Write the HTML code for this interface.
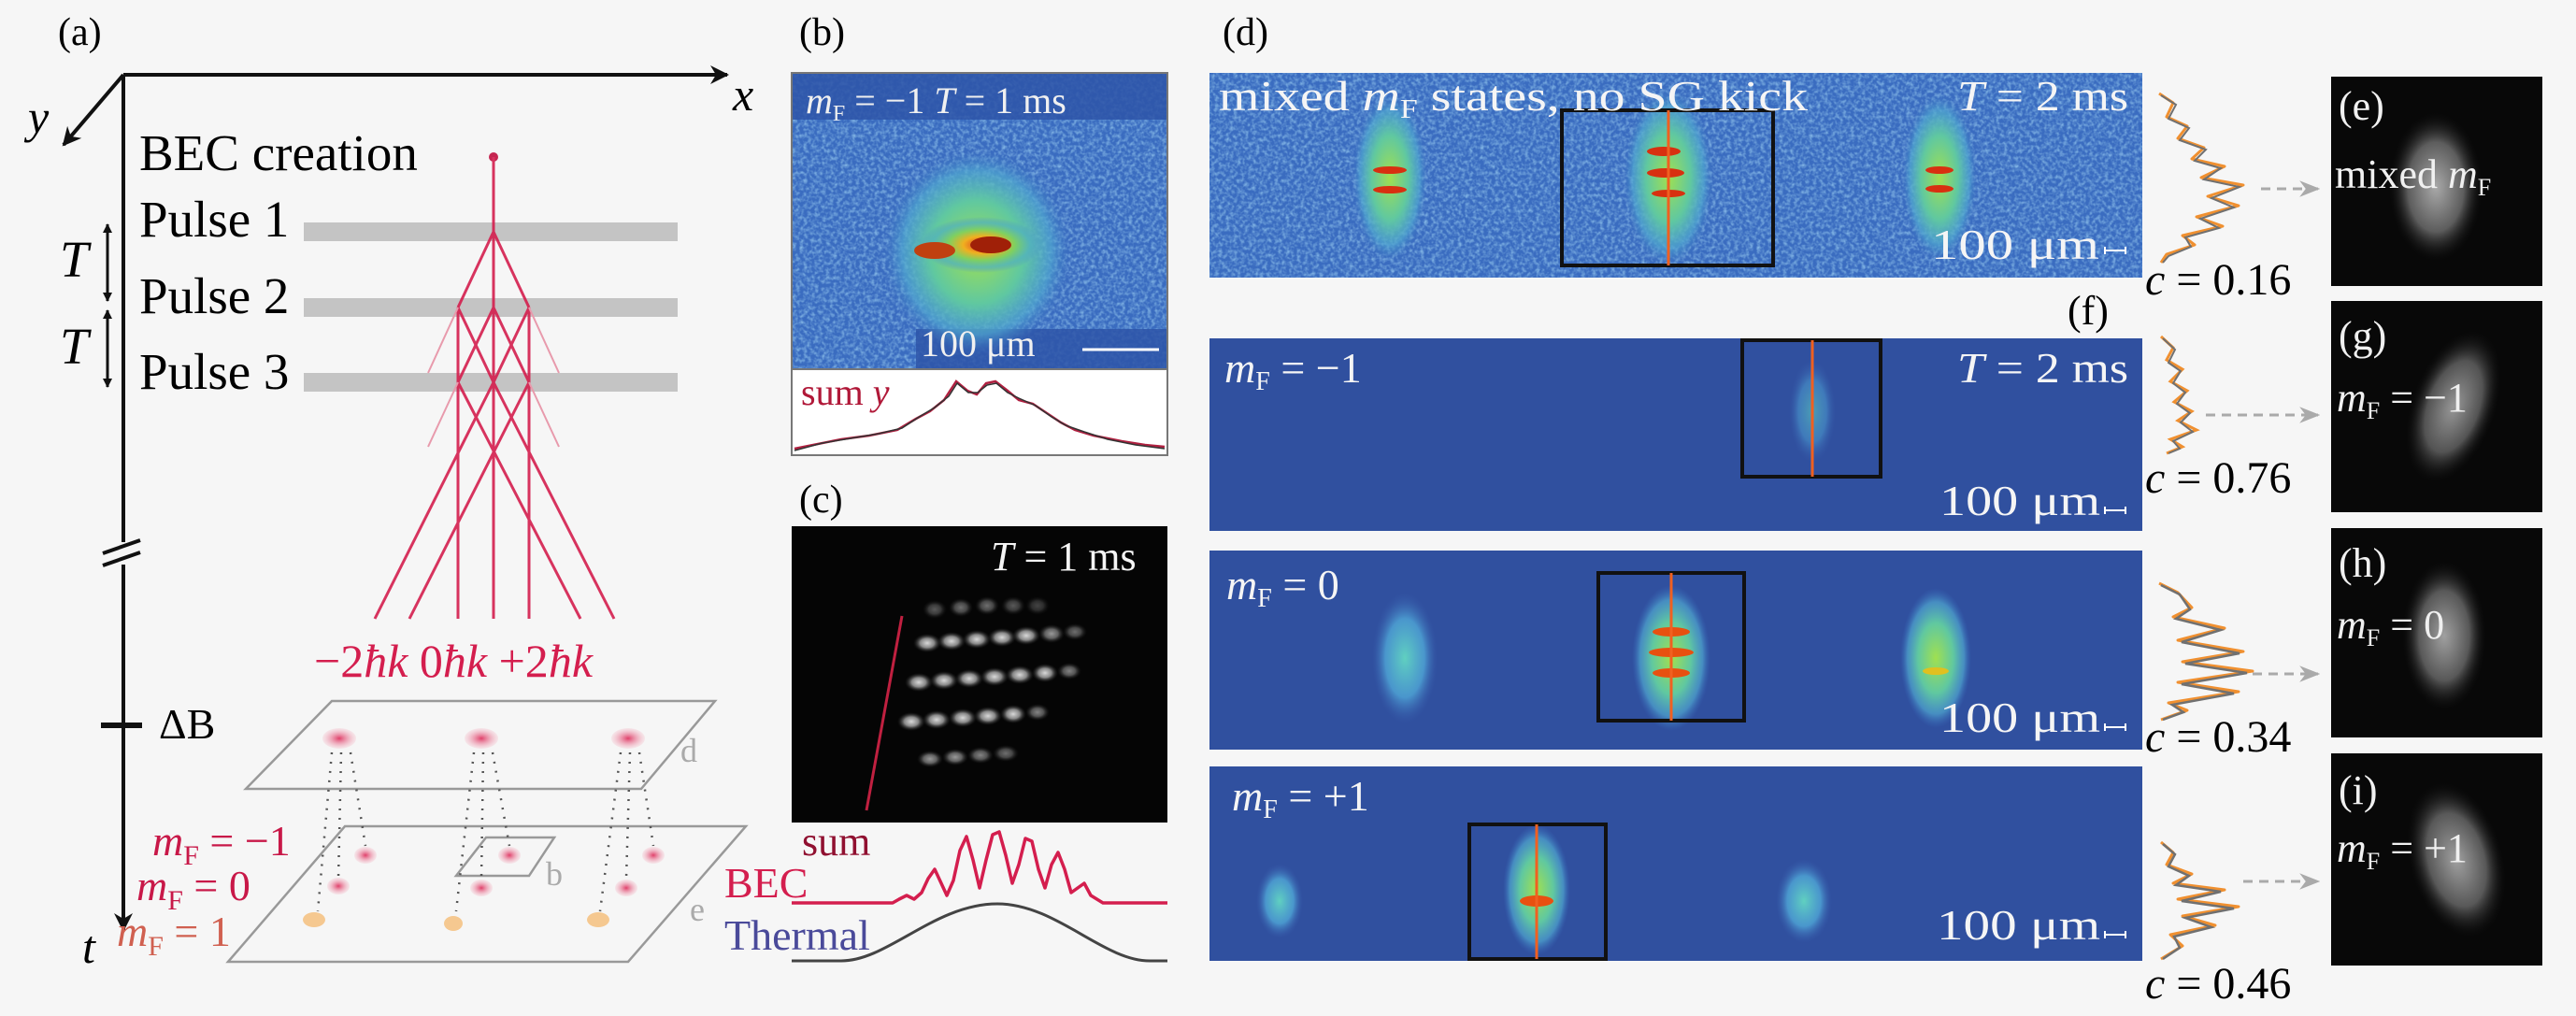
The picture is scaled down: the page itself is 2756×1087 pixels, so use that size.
<!DOCTYPE html>
<html><head><meta charset="utf-8"><style>
html,body{margin:0;padding:0;background:#f6f6f6;}
svg{display:block;font-family:"Liberation Serif","DejaVu Serif",serif;}
svg text{font-family:"Liberation Serif","DejaVu Serif",serif;}
</style></head><body>
<svg width="2756" height="1087" viewBox="0 0 2756 1087" xmlns="http://www.w3.org/2000/svg" font-family="Liberation Serif, DejaVu Serif, serif">
<defs>
<radialGradient id="blobHot" cx="50%" cy="50%" r="50%">
<stop offset="0" stop-color="#e03020"/><stop offset="0.3" stop-color="#f0b020"/><stop offset="0.55" stop-color="#7fd060"/><stop offset="0.8" stop-color="#50b0c0" stop-opacity="0.7"/><stop offset="1" stop-color="#4a90d0" stop-opacity="0"/>
</radialGradient>
<radialGradient id="blobGreen" cx="50%" cy="50%" r="50%">
<stop offset="0" stop-color="#a0e050"/><stop offset="0.5" stop-color="#60c8a0"/><stop offset="0.8" stop-color="#50a8d0" stop-opacity="0.7"/><stop offset="1" stop-color="#3a70c0" stop-opacity="0"/>
</radialGradient>
<radialGradient id="blobCyan" cx="50%" cy="50%" r="50%">
<stop offset="0" stop-color="#60d0c0"/><stop offset="0.6" stop-color="#50a8d8" stop-opacity="0.8"/><stop offset="1" stop-color="#3a5fb0" stop-opacity="0"/>
</radialGradient>
<radialGradient id="gray" cx="50%" cy="50%" r="50%">
<stop offset="0" stop-color="#bbb"/><stop offset="0.6" stop-color="#666"/><stop offset="1" stop-color="#111" stop-opacity="0"/>
</radialGradient>
<radialGradient id="spot" cx="50%" cy="50%" r="50%">
<stop offset="0" stop-color="#d8d8d8"/><stop offset="0.5" stop-color="#888"/><stop offset="1" stop-color="#222" stop-opacity="0"/>
</radialGradient>
<radialGradient id="pink" cx="50%" cy="50%" r="50%">
<stop offset="0" stop-color="#e0406a"/><stop offset="1" stop-color="#f4c0cc" stop-opacity="0.3"/>
</radialGradient>
<filter id="noise" x="0" y="0" width="100%" height="100%">
<feTurbulence type="fractalNoise" baseFrequency="0.25" numOctaves="2" seed="3"/>
<feColorMatrix type="matrix" values="0 0 0 0 0.35  0 0 0 0 0.65  0 0 0 0 0.9  0 0 0 1.4 -0.55"/>
<feComposite in2="SourceGraphic" operator="in"/>
</filter>
<marker id="ahb" viewBox="0 0 10 10" markerWidth="26" markerHeight="20" refX="9" refY="5" orient="auto" markerUnits="userSpaceOnUse"><path d="M0,0 L10,5 L0,10 L3,5 z" fill="#111"/></marker>
<marker id="ahs" viewBox="0 0 10 10" markerWidth="10" markerHeight="10" refX="9" refY="5" orient="auto-start-reverse" markerUnits="userSpaceOnUse"><path d="M0,0 L10,5 L0,10 z" fill="#111"/></marker>
<marker id="ahg" viewBox="0 0 10 10" markerWidth="22" markerHeight="22" refX="9" refY="5" orient="auto" markerUnits="userSpaceOnUse"><path d="M0,1 L10,5 L0,9 L3,5 z" fill="#aaa"/></marker>
</defs>

<text x="62" y="48" font-size="42">(a)</text>
<line x1="132" y1="80" x2="778" y2="80" stroke="#111" stroke-width="4" marker-end="url(#ahb)"/>
<text x="784" y="118" font-size="50" font-style="italic">x</text>
<line x1="132" y1="80" x2="68" y2="155" stroke="#111" stroke-width="4" marker-end="url(#ahb)"/>
<text x="30" y="142" font-size="50" font-style="italic">y</text>
<line x1="132" y1="80" x2="132" y2="995" stroke="#111" stroke-width="4" marker-end="url(#ahb)"/>
<text x="88" y="1030" font-size="50" font-style="italic">t</text>
<rect x="118" y="580" width="30" height="24" fill="#f6f6f6"/>
<line x1="110" y1="592" x2="150" y2="578" stroke="#111" stroke-width="4"/>
<line x1="110" y1="605" x2="150" y2="591" stroke="#111" stroke-width="4"/>
<line x1="108" y1="776" x2="152" y2="776" stroke="#111" stroke-width="6"/>
<text x="170" y="790" font-size="46">ΔB</text>

<text x="149" y="182" font-size="55">BEC creation</text>
<text x="149" y="253" font-size="55">Pulse 1</text>
<text x="149" y="335" font-size="55">Pulse 2</text>
<text x="149" y="416" font-size="55">Pulse 3</text>
<rect x="325" y="238" width="400" height="20" fill="#c4c4c4"/>
<rect x="325" y="319" width="400" height="20" fill="#c4c4c4"/>
<rect x="325" y="399" width="400" height="20" fill="#c4c4c4"/>
<line x1="115" y1="240" x2="115" y2="322" stroke="#111" stroke-width="3" marker-start="url(#ahs)" marker-end="url(#ahs)"/>
<line x1="115" y1="332" x2="115" y2="414" stroke="#111" stroke-width="3" marker-start="url(#ahs)" marker-end="url(#ahs)"/>
<text x="64" y="296" font-size="55" font-style="italic">T</text>
<text x="64" y="389" font-size="55" font-style="italic">T</text>

<g stroke="#d41e4e" stroke-width="3" fill="none" opacity="0.9">
<circle cx="528" cy="168" r="5" fill="#c01040" stroke="none"/>
<line x1="528" y1="168" x2="528" y2="662"/>
<line x1="528" y1="248" x2="490" y2="329"/>
<line x1="528" y1="248" x2="566" y2="329"/>
<line x1="490" y1="329" x2="490" y2="662"/>
<line x1="566" y1="329" x2="566" y2="662"/>
<line x1="490" y1="329" x2="528" y2="409"/>
<line x1="566" y1="329" x2="528" y2="409"/>
<line x1="528" y1="329" x2="490" y2="409"/>
<line x1="528" y1="329" x2="566" y2="409"/>
<line x1="528" y1="409" x2="401" y2="662"/>
<line x1="528" y1="409" x2="657" y2="662"/>
<line x1="566" y1="409" x2="438" y2="662"/>
<line x1="490" y1="409" x2="621" y2="662"/>
</g>
<g stroke="#e89aac" stroke-width="2" fill="none">
<line x1="490" y1="329" x2="458" y2="399"/>
<line x1="566" y1="329" x2="598" y2="399"/>
<line x1="490" y1="409" x2="458" y2="478"/>
<line x1="566" y1="409" x2="598" y2="478"/>
</g>
<text x="336" y="724" font-size="50" fill="#d41e4e">−2<tspan font-style="italic">ħk</tspan> 0<tspan font-style="italic">ħk</tspan> +2<tspan font-style="italic">ħk</tspan></text>

<polygon points="263,844 355,750 765,750 686,844" fill="none" stroke="#999" stroke-width="2.5"/>
<polygon points="244,1029 369,884 798,884 672,1029" fill="none" stroke="#999" stroke-width="2.5"/>
<polygon points="488,937 520,896 593,896 566,937" fill="none" stroke="#999" stroke-width="2.5"/>
<text x="728" y="815" font-size="36" fill="#aaa">d</text>
<text x="738" y="985" font-size="36" fill="#aaa">e</text>
<text x="584" y="947" font-size="36" fill="#aaa">b</text>
<g fill="url(#pink)">
<ellipse cx="363" cy="790" rx="18" ry="11"/><ellipse cx="515" cy="790" rx="18" ry="11"/><ellipse cx="672" cy="790" rx="18" ry="11"/>
<ellipse cx="391" cy="915" rx="12" ry="9"/><ellipse cx="545" cy="915" rx="12" ry="9"/><ellipse cx="699" cy="915" rx="12" ry="9"/>
<ellipse cx="362" cy="948" rx="12" ry="9"/><ellipse cx="515" cy="950" rx="12" ry="9"/><ellipse cx="670" cy="950" rx="12" ry="9"/>
</g>
<g fill="#f5c890"><ellipse cx="336" cy="984" rx="12" ry="8"/><ellipse cx="485" cy="988" rx="10" ry="8"/><ellipse cx="640" cy="984" rx="12" ry="8"/></g>
<g stroke="#555" stroke-width="2.5" stroke-dasharray="2,8">
<line x1="355" y1="805" x2="340" y2="975"/><line x1="365" y1="805" x2="362" y2="940"/><line x1="375" y1="805" x2="391" y2="905"/>
<line x1="507" y1="805" x2="488" y2="975"/><line x1="517" y1="805" x2="515" y2="940"/><line x1="527" y1="805" x2="545" y2="905"/>
<line x1="664" y1="805" x2="642" y2="975"/><line x1="674" y1="805" x2="670" y2="940"/><line x1="684" y1="805" x2="699" y2="905"/>
</g>
<text x="163" y="915" font-size="46" fill="#c81848"><tspan font-style="italic">m</tspan><tspan font-size="30" dy="10">F</tspan><tspan dy="-10"> = −1</tspan></text>
<text x="146" y="963" font-size="46" fill="#c81848"><tspan font-style="italic">m</tspan><tspan font-size="30" dy="10">F</tspan><tspan dy="-10"> = 0</tspan></text>
<text x="125" y="1012" font-size="46" fill="#d06050"><tspan font-style="italic">m</tspan><tspan font-size="30" dy="10">F</tspan><tspan dy="-10"> = 1</tspan></text>

<text x="855" y="48" font-size="42">(b)</text>
<rect x="847" y="78" width="402" height="317" fill="#3a6cc0"/>
<rect x="847" y="78" width="402" height="317" fill="#7ab8e8" filter="url(#noise)"/>
<rect x="847" y="78" width="402" height="50" fill="#2e55a8" opacity="0.85"/>
<rect x="980" y="352" width="269" height="43" fill="#2e55a8" opacity="0.85"/>
<ellipse cx="1045" cy="270" rx="100" ry="110" fill="url(#blobGreen)"/>
<ellipse cx="1050" cy="262" rx="65" ry="30" fill="url(#blobHot)"/>
<ellipse cx="1000" cy="268" rx="22" ry="9" fill="#c04010"/>
<ellipse cx="1060" cy="262" rx="22" ry="9" fill="#a02008"/>
<text x="862" y="121" font-size="40" fill="#f0f0f0"><tspan font-style="italic">m</tspan><tspan font-size="24" dy="8">F</tspan><tspan dy="-8"> = −1 </tspan><tspan font-style="italic">T</tspan> = 1 ms</text>
<text x="985" y="381" font-size="40" fill="#f0f0f0">100 μm</text>
<line x1="1158" y1="374" x2="1240" y2="374" stroke="#fff" stroke-width="3"/>
<rect x="847" y="395" width="402" height="92" fill="#fff" stroke="#777" stroke-width="2"/>
<rect x="847" y="78" width="402" height="409" fill="none" stroke="#777" stroke-width="2"/>
<text x="857" y="433" font-size="40" fill="#b01838">sum <tspan font-style="italic">y</tspan></text>
<polyline fill="none" stroke="#b02040" stroke-width="2.5" points="850,480 870,476 900,470 930,466 960,460 980,448 995,440 1010,428 1023,408 1035,418 1045,422 1055,410 1065,408 1078,418 1090,428 1105,432 1120,442 1135,452 1150,460 1170,466 1200,472 1225,476 1246,478"/>
<polyline fill="none" stroke="#333" stroke-width="1.5" points="850,482 880,474 910,469 940,464 965,458 985,445 1000,436 1015,424 1024,410 1036,420 1046,420 1056,412 1066,410 1078,420 1090,426 1108,434 1125,446 1140,455 1160,462 1185,470 1215,476 1246,480"/>

<text x="855" y="548" font-size="42">(c)</text>
<rect x="847" y="563" width="402" height="317" fill="#050505"/>
<text x="1060" y="610" font-size="44" fill="#f5f5f5"><tspan font-style="italic">T</tspan> = 1 ms</text>
<g fill="url(#spot)">
<ellipse cx="1000" cy="652" rx="13" ry="10" opacity="0.4"/><ellipse cx="1028" cy="650" rx="13" ry="10" opacity="0.5"/><ellipse cx="1056" cy="648" rx="13" ry="10" opacity="0.5"/><ellipse cx="1084" cy="648" rx="13" ry="10" opacity="0.4"/><ellipse cx="1110" cy="648" rx="13" ry="10" opacity="0.3"/>
<ellipse cx="992" cy="688" rx="15" ry="10"/><ellipse cx="1018" cy="686" rx="15" ry="10"/><ellipse cx="1045" cy="684" rx="15" ry="10"/><ellipse cx="1072" cy="682" rx="15" ry="10"/><ellipse cx="1098" cy="680" rx="15" ry="10"/><ellipse cx="1125" cy="678" rx="14" ry="10" opacity="0.7"/><ellipse cx="1150" cy="676" rx="13" ry="9" opacity="0.5"/>
<ellipse cx="983" cy="730" rx="15" ry="10"/><ellipse cx="1010" cy="728" rx="15" ry="10"/><ellipse cx="1037" cy="726" rx="15" ry="10"/><ellipse cx="1064" cy="724" rx="15" ry="10"/><ellipse cx="1091" cy="722" rx="15" ry="10"/><ellipse cx="1118" cy="720" rx="14" ry="10"/><ellipse cx="1144" cy="718" rx="13" ry="9" opacity="0.6"/>
<ellipse cx="975" cy="772" rx="15" ry="10"/><ellipse cx="1002" cy="770" rx="15" ry="10"/><ellipse cx="1030" cy="768" rx="15" ry="10"/><ellipse cx="1057" cy="766" rx="15" ry="10"/><ellipse cx="1084" cy="764" rx="14" ry="10"/><ellipse cx="1110" cy="762" rx="13" ry="9" opacity="0.6"/>
<ellipse cx="995" cy="812" rx="14" ry="9" opacity="0.7"/><ellipse cx="1022" cy="810" rx="14" ry="9" opacity="0.7"/><ellipse cx="1049" cy="808" rx="14" ry="9" opacity="0.6"/><ellipse cx="1076" cy="806" rx="14" ry="9" opacity="0.5"/>
</g>
<line x1="965" y1="659" x2="927" y2="867" stroke="#c02040" stroke-width="3"/>
<text x="858" y="915" font-size="44" fill="#901030">sum</text>
<text x="775" y="960" font-size="46" fill="#d41e4e">BEC</text>
<text x="775" y="1016" font-size="46" fill="#4a4a9a">Thermal</text>
<polyline fill="none" stroke="#d41e4e" stroke-width="3.5" stroke-linejoin="round" points="847,966 955,966 962,962 970,958 978,962 986,955 993,940 1000,930 1007,945 1013,958 1020,942 1027,910 1034,895 1041,920 1048,950 1055,920 1062,893 1069,890 1076,915 1083,945 1090,925 1097,897 1104,900 1111,930 1118,950 1125,925 1132,912 1139,930 1146,955 1153,950 1160,945 1167,958 1180,966 1249,966"/>
<path d="M847,1028 L900,1028 C950,1028 1000,967 1067,967 C1130,967 1180,1028 1230,1028 L1249,1028" fill="none" stroke="#444" stroke-width="3"/>

<text x="1308" y="48" font-size="42">(d)</text>
<rect x="1294" y="78" width="998" height="219" fill="#3a6cc0"/>
<rect x="1294" y="78" width="998" height="219" fill="#7ab8e8" filter="url(#noise)"/>
<ellipse cx="1487" cy="190" rx="40" ry="90" fill="url(#blobGreen)"/>
<ellipse cx="1785" cy="190" rx="48" ry="95" fill="url(#blobGreen)"/>
<ellipse cx="2075" cy="190" rx="40" ry="90" fill="url(#blobGreen)"/>
<g fill="#d83010"><ellipse cx="1487" cy="182" rx="18" ry="4"/><ellipse cx="1487" cy="203" rx="18" ry="4"/>
<ellipse cx="1780" cy="162" rx="18" ry="5"/><ellipse cx="1782" cy="185" rx="20" ry="5"/><ellipse cx="1785" cy="207" rx="18" ry="4"/>
<ellipse cx="2075" cy="182" rx="15" ry="4"/><ellipse cx="2075" cy="202" rx="15" ry="4"/></g>
<rect x="1671" y="118" width="226" height="166" fill="none" stroke="#111" stroke-width="4"/>
<line x1="1785" y1="118" x2="1785" y2="284" stroke="#f06020" stroke-width="3"/>
<text x="1304" y="118" font-size="46" fill="#f5f5f5" textLength="630" lengthAdjust="spacingAndGlyphs">mixed <tspan font-style="italic">m</tspan><tspan font-size="28" dy="8">F</tspan><tspan dy="-8"> states, no SG kick</tspan></text>
<text x="2094" y="118" font-size="46" fill="#f5f5f5" textLength="183" lengthAdjust="spacingAndGlyphs"><tspan font-style="italic">T</tspan> = 2 ms</text>
<text x="2066" y="277" font-size="46" fill="#f5f5f5" textLength="180" lengthAdjust="spacingAndGlyphs">100 μm</text>
<path d="M2252,272 v-8 M2252,268 h22 M2274,272 v-8" stroke="#fff" stroke-width="2" fill="none"/>

<polyline fill="none" stroke="#f09030" stroke-width="3" stroke-linejoin="round" points="2310,100 2325,110 2318,125 2340,135 2330,148 2358,158 2345,170 2380,178 2355,190 2400,198 2362,210 2395,220 2350,232 2378,242 2335,252 2348,262 2318,272 2312,281"/>
<polyline fill="none" stroke="#707070" stroke-width="2" points="2312,102 2328,112 2320,127 2342,137 2332,150 2360,160 2348,172 2376,180 2358,192 2396,200 2366,212 2390,222 2354,234 2374,244 2338,254 2344,264 2320,274 2314,281"/>
<line x1="2419" y1="202" x2="2480" y2="202" stroke="#aaa" stroke-width="3" stroke-dasharray="10,7" marker-end="url(#ahg)"/>
<text x="2295" y="315" font-size="48"><tspan font-style="italic">c</tspan> = 0.16</text>

<rect x="2494" y="82" width="226" height="224" fill="#080808"/>
<ellipse cx="2606" cy="200" rx="50" ry="80" fill="url(#gray)" opacity="0.9"/>
<text x="2502" y="128" font-size="44" fill="#f0f0f0">(e)</text>
<text x="2498" y="201" font-size="44" fill="#f0f0f0">mixed <tspan font-style="italic">m</tspan><tspan font-size="26" dy="8">F</tspan></text>

<text x="2212" y="347" font-size="44">(f)</text>
<rect x="1294" y="362" width="998" height="206" fill="#30509f"/>
<ellipse cx="1939" cy="440" rx="25" ry="55" fill="url(#blobCyan)" opacity="0.6"/>
<rect x="1864" y="364" width="148" height="146" fill="none" stroke="#111" stroke-width="4"/>
<line x1="1939" y1="364" x2="1939" y2="510" stroke="#f06020" stroke-width="3"/>
<text x="1310" y="409" font-size="46" fill="#f5f5f5"><tspan font-style="italic">m</tspan><tspan font-size="28" dy="8">F</tspan><tspan dy="-8"> = −1</tspan></text>
<text x="2094" y="409" font-size="46" fill="#f5f5f5" textLength="183" lengthAdjust="spacingAndGlyphs"><tspan font-style="italic">T</tspan> = 2 ms</text>
<text x="2075" y="551" font-size="46" fill="#f5f5f5" textLength="172" lengthAdjust="spacingAndGlyphs">100 μm</text>
<path d="M2252,550 v-8 M2252,546 h22 M2274,550 v-8" stroke="#fff" stroke-width="2" fill="none"/>
<polyline fill="none" stroke="#f09030" stroke-width="3" points="2312,360 2325,372 2318,385 2335,395 2322,408 2340,418 2326,430 2345,440 2330,450 2350,460 2322,470 2335,478 2318,485"/>
<polyline fill="none" stroke="#707070" stroke-width="2" points="2314,362 2327,374 2320,388 2333,397 2325,410 2338,420 2329,432 2343,442 2333,452 2346,462 2325,472 2332,480 2320,485"/>
<line x1="2360" y1="444" x2="2480" y2="444" stroke="#aaa" stroke-width="3" stroke-dasharray="10,7" marker-end="url(#ahg)"/>
<text x="2295" y="527" font-size="48"><tspan font-style="italic">c</tspan> = 0.76</text>
<rect x="2494" y="322" width="226" height="226" fill="#080808"/>
<ellipse cx="2625" cy="435" rx="45" ry="85" fill="url(#gray)" opacity="0.8" transform="rotate(20 2625 435)"/>
<text x="2502" y="374" font-size="44" fill="#f0f0f0">(g)</text>
<text x="2500" y="440" font-size="44" fill="#f0f0f0"><tspan font-style="italic">m</tspan><tspan font-size="26" dy="8">F</tspan><tspan dy="-8"> = −1</tspan></text>

<rect x="1294" y="589" width="998" height="213" fill="#30509f"/>
<ellipse cx="1503" cy="704" rx="35" ry="70" fill="url(#blobCyan)"/>
<ellipse cx="1788" cy="704" rx="42" ry="78" fill="url(#blobGreen)"/>
<ellipse cx="2071" cy="704" rx="38" ry="75" fill="url(#blobGreen)"/>
<g fill="#e85010"><ellipse cx="1788" cy="676" rx="20" ry="5"/><ellipse cx="1788" cy="698" rx="24" ry="5"/><ellipse cx="1788" cy="720" rx="20" ry="5"/><ellipse cx="2071" cy="718" rx="14" ry="4" fill="#e0c020"/></g>
<rect x="1710" y="613" width="156" height="158" fill="none" stroke="#111" stroke-width="4"/>
<line x1="1788" y1="613" x2="1788" y2="771" stroke="#f06020" stroke-width="3"/>
<text x="1312" y="641" font-size="46" fill="#f5f5f5"><tspan font-style="italic">m</tspan><tspan font-size="28" dy="8">F</tspan><tspan dy="-8"> = 0</tspan></text>
<text x="2075" y="783" font-size="46" fill="#f5f5f5" textLength="172" lengthAdjust="spacingAndGlyphs">100 μm</text>
<path d="M2252,782 v-8 M2252,778 h22 M2274,782 v-8" stroke="#fff" stroke-width="2" fill="none"/>
<polyline fill="none" stroke="#f09030" stroke-width="3" stroke-linejoin="round" points="2310,624 2330,634 2345,650 2325,660 2380,672 2330,685 2400,697 2335,708 2410,718 2330,730 2395,740 2320,752 2340,760 2312,770"/>
<polyline fill="none" stroke="#707070" stroke-width="2.5" points="2312,626 2332,636 2343,652 2328,662 2376,674 2334,687 2396,699 2338,710 2404,720 2334,732 2390,742 2324,754 2336,762 2314,770"/>
<line x1="2410" y1="721" x2="2480" y2="721" stroke="#aaa" stroke-width="3" stroke-dasharray="10,7" marker-end="url(#ahg)"/>
<text x="2295" y="804" font-size="48"><tspan font-style="italic">c</tspan> = 0.34</text>
<rect x="2494" y="565" width="226" height="224" fill="#080808"/>
<ellipse cx="2615" cy="680" rx="45" ry="80" fill="url(#gray)" opacity="0.85"/>
<text x="2502" y="617" font-size="44" fill="#f0f0f0">(h)</text>
<text x="2500" y="683" font-size="44" fill="#f0f0f0"><tspan font-style="italic">m</tspan><tspan font-size="26" dy="8">F</tspan><tspan dy="-8"> = 0</tspan></text>

<rect x="1294" y="820" width="998" height="208" fill="#30509f"/>
<ellipse cx="1369" cy="964" rx="25" ry="40" fill="url(#blobCyan)"/>
<ellipse cx="1644" cy="952" rx="36" ry="70" fill="url(#blobGreen)"/>
<ellipse cx="1930" cy="964" rx="30" ry="45" fill="url(#blobCyan)"/>
<ellipse cx="1644" cy="964" rx="18" ry="6" fill="#e85010"/>
<rect x="1572" y="882" width="146" height="144" fill="none" stroke="#111" stroke-width="4"/>
<line x1="1644" y1="882" x2="1644" y2="1026" stroke="#f06020" stroke-width="3"/>
<text x="1318" y="867" font-size="46" fill="#f5f5f5"><tspan font-style="italic">m</tspan><tspan font-size="28" dy="8">F</tspan><tspan dy="-8"> = +1</tspan></text>
<text x="2072" y="1005" font-size="46" fill="#f5f5f5" textLength="175" lengthAdjust="spacingAndGlyphs">100 μm</text>
<path d="M2252,1004 v-8 M2252,1000 h22 M2274,1004 v-8" stroke="#fff" stroke-width="2" fill="none"/>
<polyline fill="none" stroke="#f09030" stroke-width="3" stroke-linejoin="round" points="2312,901 2325,912 2318,925 2345,935 2325,945 2380,952 2330,962 2395,970 2335,980 2370,990 2322,1000 2335,1012 2312,1026"/>
<polyline fill="none" stroke="#707070" stroke-width="2.5" points="2314,903 2327,914 2320,927 2342,937 2328,947 2376,954 2334,964 2390,972 2338,982 2366,992 2326,1002 2332,1014 2314,1026"/>
<line x1="2400" y1="943" x2="2480" y2="943" stroke="#aaa" stroke-width="3" stroke-dasharray="10,7" marker-end="url(#ahg)"/>
<text x="2295" y="1068" font-size="48"><tspan font-style="italic">c</tspan> = 0.46</text>
<rect x="2494" y="806" width="226" height="227" fill="#080808"/>
<ellipse cx="2628" cy="920" rx="50" ry="85" fill="url(#gray)" opacity="0.85" transform="rotate(-15 2628 920)"/>
<text x="2502" y="860" font-size="44" fill="#f0f0f0">(i)</text>
<text x="2500" y="922" font-size="44" fill="#f0f0f0"><tspan font-style="italic">m</tspan><tspan font-size="26" dy="8">F</tspan><tspan dy="-8"> = +1</tspan></text>
</svg>
</body></html>
